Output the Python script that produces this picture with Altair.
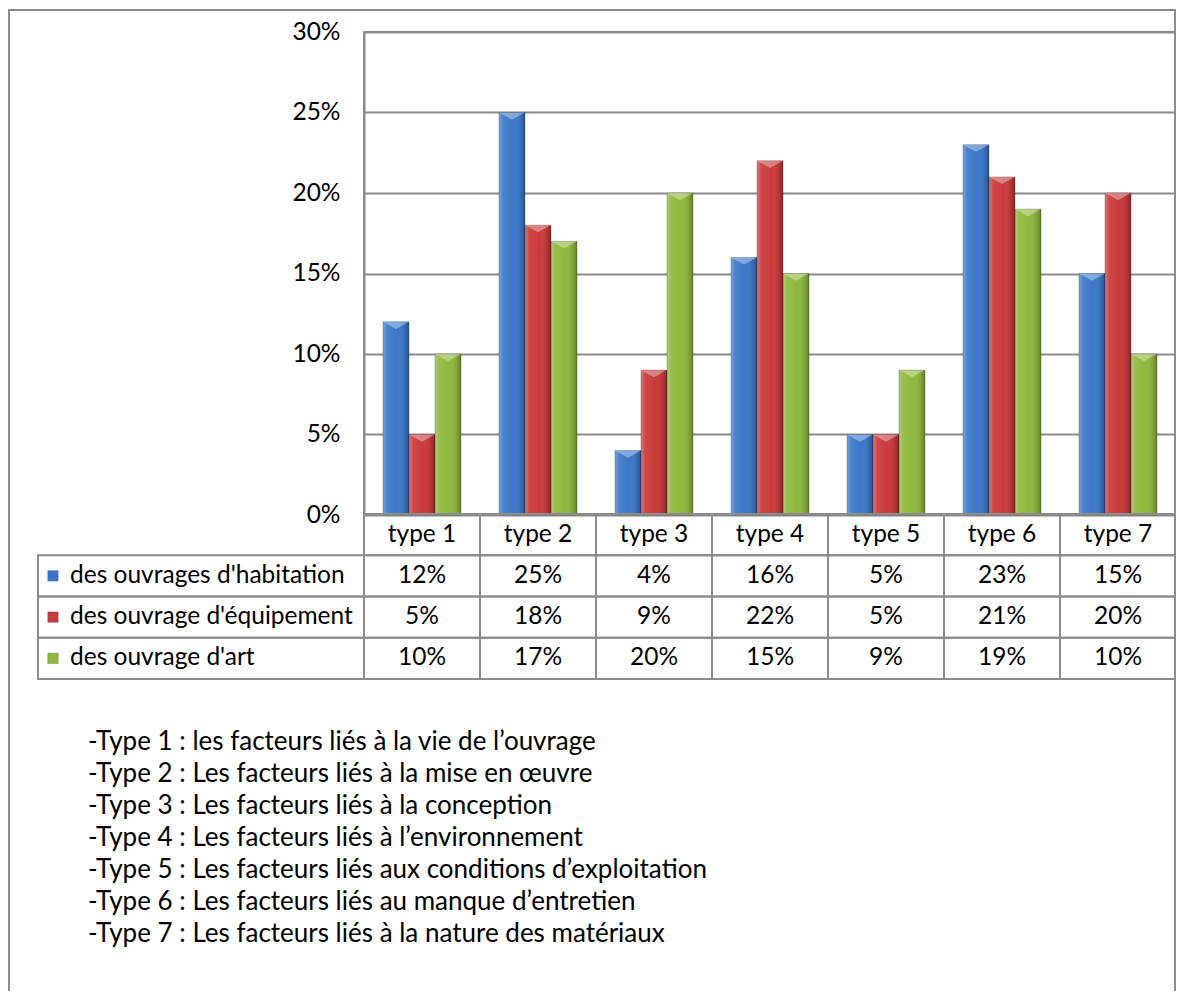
import altair as alt
import pandas as pd

# ---------------- data ----------------
types = ["type 1", "type 2", "type 3", "type 4", "type 5", "type 6", "type 7"]
series = ["des ouvrages d'habitation", "des ouvrage d'équipement", "des ouvrage d'art"]
habitation = [12, 25, 4, 16, 5, 23, 15]
equipement = [5, 18, 9, 22, 5, 21, 20]
art = [10, 17, 20, 15, 9, 19, 10]
notes = [
    "-Type 1 : les facteurs liés à la vie de l’ouvrage",
    "-Type 2 : Les facteurs liés à la mise en œuvre",
    "-Type 3 : Les facteurs liés à la conception",
    "-Type 4 : Les facteurs liés à l’environnement",
    "-Type 5 : Les facteurs liés aux conditions d’exploitation",
    "-Type 6 : Les facteurs liés au manque d’entretien",
    "-Type 7 : Les facteurs liés à la nature des matériaux",
]
y_ticks = [0, 0.05, 0.10, 0.15, 0.20, 0.25, 0.30]

# ---------------- styles ----------------
colors = ["#3b78c9", "#c93a3a", "#8fb83c"]
GRID = "#8c8c8c"
FONT = "Lato"
FS = 24.5
FS_NOTE = 26
W, H = 812, 483

rows = []
for s, vals in zip(series, [habitation, equipement, art]):
    for t, v in zip(types, vals):
        rows.append({"type": t, "series": s, "row": s, "value": v / 100, "label": f"{v}%"})
df = pd.DataFrame(rows)
hdr_df = pd.DataFrame({"type": types, "row": ["hdr"] * len(types), "label": types})
cell_df = pd.concat([df[["type", "row", "label"]], hdr_df], ignore_index=True)
ser_df = pd.DataFrame({"series": series, "row": series})
notes_df = pd.DataFrame({"note": notes})

x_enc = alt.X("type:N", scale=alt.Scale(domain=types, paddingInner=0, paddingOuter=0), axis=None)
xo_enc = alt.XOffset("series:N", scale=alt.Scale(domain=series, paddingInner=0, paddingOuter=0.73))
y_axis = alt.Axis(
    values=y_ticks, format=".0%", title=None, ticks=False, labelPadding=24,
    labelFont=FONT, labelFontSize=FS, labelColor="#000",
    domainColor=GRID, domainWidth=2, gridColor=GRID, gridWidth=1.8, grid=True,
)
y_val = alt.Y("value:Q", scale=alt.Scale(domain=[0, 0.3], nice=False), axis=y_axis)
color_enc = alt.Color("series:N", scale=alt.Scale(domain=series, range=colors), legend=None)

bars = alt.Chart(df).mark_bar().encode(x=x_enc, xOffset=xo_enc, y=y_val, color=color_enc)
shade = alt.Chart(df).mark_bar(
    fill=alt.LinearGradient(
        gradient="linear", x1=0, x2=1, y1=0, y2=0,
        stops=[
            alt.GradientStop(color="rgba(255,255,255,0.35)", offset=0),
            alt.GradientStop(color="rgba(255,255,255,0.08)", offset=0.15),
            alt.GradientStop(color="rgba(255,255,255,0.0)", offset=0.55),
            alt.GradientStop(color="rgba(0,0,0,0.12)", offset=0.85),
            alt.GradientStop(color="rgba(0,0,0,0.3)", offset=1),
        ],
    ),
    stroke="rgba(0,0,0,0.3)", strokeWidth=0.8,
).encode(x=x_enc, xOffset=xo_enc, y=y_val)
bevel = alt.Chart(df).mark_point(
    shape="M-1,0L1,0L0,0.55Z", filled=True, fill="white", fillOpacity=0.35, size=676, strokeWidth=0, opacity=1
).encode(x=x_enc, xOffset=xo_enc, y=y_val)
bar_layer = alt.layer(bars, shade, bevel)

row_scale = alt.Scale(type="band", domain=["hdr"] + series, range=[482, 647], paddingInner=0, paddingOuter=0)
y_row = alt.Y("row:N", scale=row_scale, axis=None)

cells = alt.Chart(cell_df).mark_rect(fillOpacity=0, stroke=GRID, strokeWidth=2).encode(x=x_enc, y=y_row)
cell_txt = alt.Chart(cell_df).mark_text(font=FONT, fontSize=FS, color="#000", baseline="middle").encode(
    x=x_enc, y=y_row, text="label:N"
)
lab_cells = alt.Chart(ser_df).mark_rect(fillOpacity=0, stroke=GRID, strokeWidth=2).encode(
    x=alt.value(-326), x2=alt.value(0), y=y_row
)
lab_txt = alt.Chart(ser_df).mark_text(font=FONT, fontSize=FS, color="#000", align="left", baseline="middle").encode(
    x=alt.value(-294), y=y_row, text="row:N"
)
swatch = alt.Chart(ser_df).mark_square(size=110, opacity=1, stroke="rgba(0,0,0,0.3)", strokeWidth=0.6).encode(
    x=alt.value(-311), y=y_row, color=color_enc
)
table_layer = alt.layer(cells, cell_txt, lab_cells, lab_txt, swatch)

notes_layer = alt.Chart(notes_df).mark_text(
    font=FONT, fontSize=FS_NOTE, color="#000", align="left", baseline="middle"
).encode(
    x=alt.value(-276),
    y=alt.Y("note:N", scale=alt.Scale(type="point", domain=notes, range=[710, 902], padding=0), axis=None),
    text="note:N",
)

border = alt.Chart(pd.DataFrame({"a": [0]})).mark_rect(fillOpacity=0, stroke=GRID, strokeWidth=2).encode(
    x=alt.value(-355), x2=alt.value(811), y=alt.value(-22), y2=alt.value(1000)
)

chart = (
    alt.layer(bar_layer, table_layer, notes_layer, border)
    .resolve_scale(y="independent")
    .properties(
        width=W, height=H,
        padding={"left": 356, "top": 24, "right": 0, "bottom": 476},
        autosize=alt.AutoSizeParams(type="none"),
        background="white",
    )
    .configure_view(stroke=GRID, strokeWidth=2)
)

chart.save("out.html", embed_options={"renderer": "svg", "actions": False})
